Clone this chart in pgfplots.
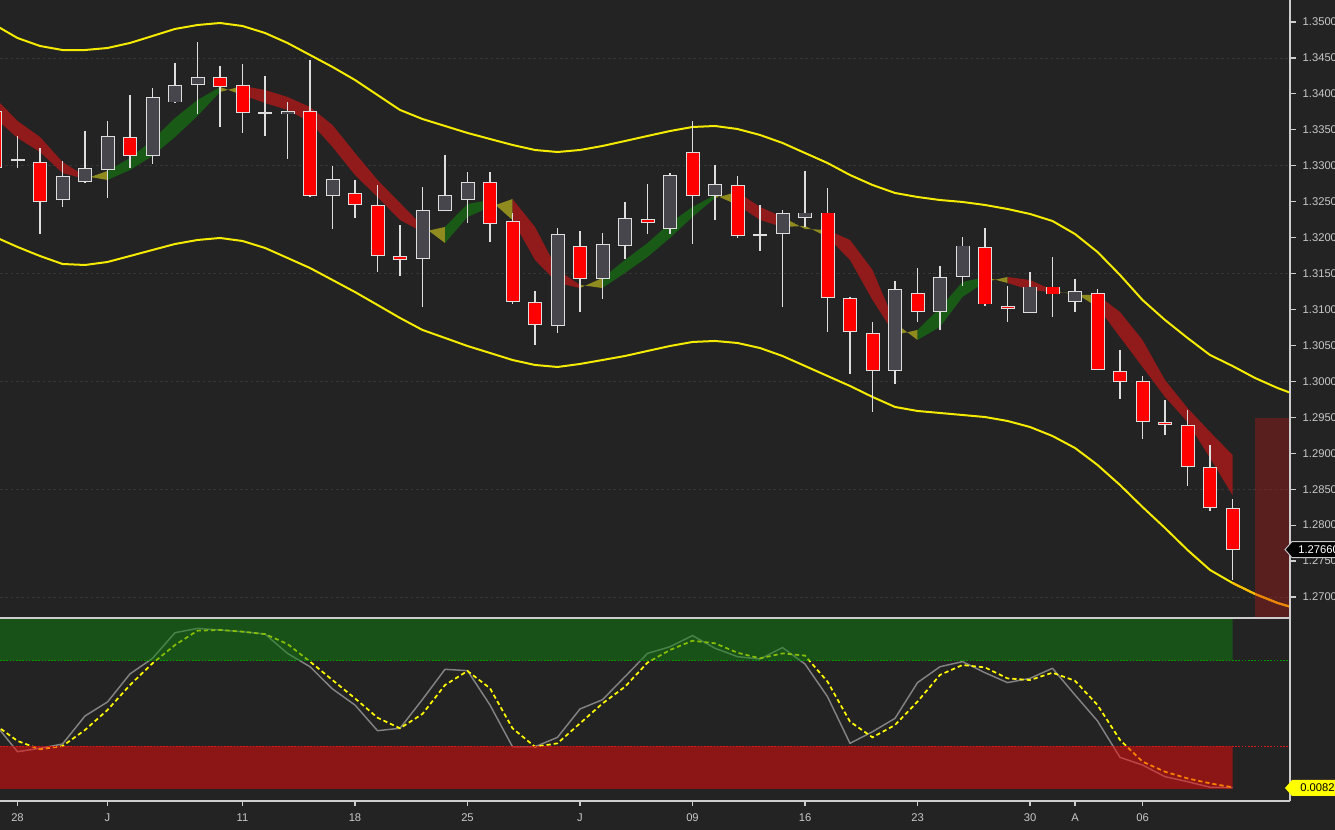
\documentclass[border=0pt]{standalone}
\usepackage{pgfplots}
\pgfplotsset{compat=1.18}
\usepackage{pgfplotstable}
\usepgfplotslibrary{fillbetween}
\usepackage{fontspec}
\setmainfont{Liberation Sans}
\definecolor{bg}{RGB}{35,35,35}
\definecolor{tickcol}{RGB}{200,200,200}
\definecolor{axcol}{RGB}{205,205,205}
\definecolor{gridcol}{RGB}{54,54,54}
\definecolor{ribred}{RGB}{145,26,26}
\definecolor{ribgreen}{RGB}{24,90,22}
\definecolor{ribolive}{RGB}{143,139,30}
\definecolor{bandcol}{RGB}{245,235,0}
\definecolor{bandorange}{RGB}{255,185,0}
\definecolor{upfill}{RGB}{70,70,76}
\definecolor{downfill}{RGB}{255,0,0}
\definecolor{outl}{RGB}{222,222,222}
\definecolor{wick}{RGB}{222,222,222}
\definecolor{kcol}{RGB}{130,130,130}
\definecolor{dcol}{RGB}{255,250,0}
\definecolor{zgreen}{RGB}{14,130,14}
\definecolor{zred}{RGB}{246,8,8}
\definecolor{projred}{RGB}{200,25,25}

% down (red) candles
\pgfplotstableread{
i o h l c
-1 1.3376 1.3392 1.3290 1.3297
1 1.3305 1.3325 1.3205 1.3250
5 1.3340 1.3398 1.3297 1.3314
9 1.3423 1.3439 1.3354 1.3409
10 1.3412 1.3442 1.3345 1.3374
13 1.3376 1.3447 1.3256 1.3258
15 1.3262 1.3280 1.3227 1.3246
16 1.3245 1.3273 1.3152 1.3174
17 1.3174 1.3218 1.3147 1.3169
21 1.3277 1.3291 1.3194 1.3219
22 1.3223 1.3234 1.3107 1.3111
23 1.3111 1.3126 1.3050 1.3078
25 1.3189 1.3209 1.3096 1.3143
28 1.3226 1.3275 1.3205 1.3221
30 1.3319 1.3362 1.3191 1.3258
32 1.3273 1.3286 1.3200 1.3203
36 1.3235 1.3269 1.3069 1.3116
37 1.3116 1.3118 1.3011 1.3069
38 1.3067 1.3082 1.2958 1.3015
40 1.3123 1.3158 1.3083 1.3096
43 1.3187 1.3213 1.3105 1.3107
44 1.3105 1.3132 1.3083 1.3101
46 1.3132 1.3173 1.3090 1.3121
48 1.3123 1.3128 1.3016 1.3016
49 1.3014 1.3044 1.2976 1.2999
50 1.3001 1.3007 1.2920 1.2944
51 1.2944 1.2974 1.2925 1.2940
52 1.2939 1.2960 1.2854 1.2881
53 1.2881 1.2912 1.2820 1.2824
54 1.2824 1.2836 1.2724 1.2766
}\down

% up (grey) candles
\pgfplotstableread{
i o h l c
0 1.3308 1.3341 1.3297 1.3309
2 1.3253 1.3307 1.3242 1.3286
3 1.3277 1.3348 1.3276 1.3297
4 1.3294 1.3363 1.3255 1.3342
6 1.3314 1.3408 1.3303 1.3395
7 1.3388 1.3443 1.3388 1.3412
8 1.3412 1.3472 1.3372 1.3423
11 1.3374 1.3425 1.3342 1.3374
12 1.3372 1.3389 1.3309 1.3376
14 1.3258 1.3299 1.3212 1.3281
18 1.3170 1.3271 1.3103 1.3238
19 1.3237 1.3315 1.3237 1.3259
20 1.3252 1.3291 1.3221 1.3277
24 1.3077 1.3213 1.3067 1.3205
26 1.3142 1.3207 1.3115 1.3191
27 1.3189 1.3250 1.3171 1.3227
29 1.3212 1.3290 1.3205 1.3287
31 1.3258 1.3301 1.3224 1.3274
33 1.3204 1.3245 1.3181 1.3204
34 1.3205 1.3238 1.3103 1.3234
35 1.3228 1.3293 1.3215 1.3235
39 1.3014 1.3140 1.2996 1.3128
41 1.3096 1.3160 1.3072 1.3145
42 1.3145 1.3201 1.3133 1.3189
45 1.3095 1.3152 1.3095 1.3132
47 1.3110 1.3143 1.3096 1.3126
}\up

% ribbon: slow (S) and fast (F) averages
\pgfplotstableread{
i S F
-1 1.33943 1.33664
0 1.33623 1.33386
1 1.33400 1.33191
2 1.33052 1.32899
3 1.32857 1.32816
4 1.32802 1.32927
5 1.32941 1.33108
6 1.33136 1.33358
7 1.33400 1.33664
8 1.33692 1.33915
9 1.34026 1.34096
10 1.34110 1.33984
11 1.34054 1.33873
12 1.33957 1.33776
13 1.33817 1.33609
14 1.33567 1.33261
15 1.33177 1.32871
16 1.32802 1.32565
17 1.32482 1.32245
18 1.32162 1.32078
19 1.31925 1.32148
20 1.32287 1.32468
21 1.32426 1.32523
22 1.32537 1.32245
23 1.32148 1.31689
24 1.31550 1.31369
25 1.31341 1.31299
26 1.31299 1.31438
27 1.31508 1.31689
28 1.31730 1.31925
29 1.31995 1.32204
30 1.32287 1.32426
31 1.32551 1.32593
32 1.32635 1.32454
33 1.32426 1.32245
34 1.32287 1.32148
35 1.32120 1.32162
36 1.32106 1.32009
37 1.31967 1.31689
38 1.31550 1.31132
39 1.30812 1.30645
40 1.30576 1.30715
41 1.30757 1.31021
42 1.31174 1.31383
43 1.31383 1.31452
44 1.31452 1.31369
45 1.31410 1.31271
46 1.31271 1.31243
47 1.31202 1.31230
48 1.31202 1.31035
49 1.30965 1.30617
50 1.30576 1.30200
51 1.30019 1.29783
52 1.29630 1.29435
53 1.29296 1.28934
54 1.28976 1.28419
}\ribbon

% envelope bands
\pgfplotstableread{
i U L
-1 1.34958 1.32009
0 1.34777 1.31870
1 1.34666 1.31744
2 1.34610 1.31633
3 1.34610 1.31619
4 1.34638 1.31661
5 1.34708 1.31744
6 1.34805 1.31828
7 1.34903 1.31911
8 1.34958 1.31967
9 1.34986 1.31995
10 1.34944 1.31953
11 1.34847 1.31856
12 1.34708 1.31717
13 1.34541 1.31577
14 1.34374 1.31410
15 1.34193 1.31243
16 1.33984 1.31063
17 1.33776 1.30882
18 1.33650 1.30715
19 1.33553 1.30604
20 1.33456 1.30492
21 1.33372 1.30395
22 1.33289 1.30297
23 1.33219 1.30228
24 1.33191 1.30200
25 1.33219 1.30242
26 1.33275 1.30297
27 1.33344 1.30353
28 1.33414 1.30423
29 1.33483 1.30492
30 1.33539 1.30548
31 1.33553 1.30562
32 1.33511 1.30534
33 1.33428 1.30464
34 1.33317 1.30353
35 1.33177 1.30214
36 1.33038 1.30075
37 1.32871 1.29936
38 1.32732 1.29783
39 1.32621 1.29644
40 1.32565 1.29588
41 1.32523 1.29560
42 1.32496 1.29532
43 1.32454 1.29504
44 1.32398 1.29449
45 1.32329 1.29365
46 1.32231 1.29240
47 1.32050 1.29073
48 1.31800 1.28837
49 1.31480 1.28558
50 1.31132 1.28252
51 1.30854 1.27960
52 1.30604 1.27654
53 1.30367 1.27376
54 1.30214 1.27195
55 1.30047 1.27042
56 1.29908 1.26917
56.6 1.29838 1.26861
}\bands

% stochastic oscillator
\pgfplotstableread{
i K D
-1 0.380 0.376
0 0.218 0.281
1 0.238 0.232
2 0.263 0.251
3 0.427 0.345
4 0.509 0.462
5 0.673 0.608
6 0.764 0.735
7 0.914 0.842
8 0.939 0.926
9 0.930 0.930
10 0.920 0.920
11 0.906 0.906
12 0.793 0.848
13 0.715 0.745
14 0.585 0.637
15 0.491 0.530
16 0.341 0.417
17 0.355 0.355
18 0.524 0.439
19 0.700 0.608
20 0.692 0.690
21 0.491 0.589
22 0.247 0.355
23 0.247 0.247
24 0.302 0.267
25 0.468 0.384
26 0.522 0.500
27 0.657 0.598
28 0.793 0.739
29 0.832 0.813
30 0.897 0.867
31 0.823 0.852
32 0.774 0.797
33 0.760 0.764
34 0.827 0.793
35 0.731 0.780
36 0.540 0.628
37 0.267 0.394
38 0.335 0.302
39 0.413 0.374
40 0.622 0.511
41 0.715 0.667
42 0.745 0.725
43 0.680 0.711
44 0.622 0.647
45 0.647 0.637
46 0.706 0.680
47 0.550 0.633
48 0.398 0.491
49 0.185 0.287
50 0.140 0.160
51 0.072 0.101
52 0.043 0.062
53 0.010 0.033
54 0.008 0.010
}\osc

\begin{document}
\pagecolor{bg}%
\begin{tikzpicture}[x=0.75pt,y=0.75pt,font=\fontsize{8.4}{10}\selectfont]

% ---------------- price panel ----------------
\begin{axis}[
  at={(0pt,159pt)}, anchor=south west,
  width=967.5pt, height=463.5pt, scale only axis,
  xmin=-0.7778, xmax=56.556,
  ymin=1.267078, ymax=1.353061,
  axis line style={draw=none},
  xtick=\empty,
  ytick pos=right,
  ytick={1.27,1.275,1.28,1.285,1.29,1.295,1.3,1.305,1.31,1.315,1.32,1.325,1.33,1.335,1.34,1.345,1.35},
  scaled y ticks=false,
  yticklabel style={text=tickcol, anchor=west, xshift=1.5pt,
    /pgf/number format/fixed, /pgf/number format/fixed zerofill,
    /pgf/number format/precision=5, /pgf/number format/assume math mode=true},
  tick align=outside, major tick length=4.5pt,
  tick style={draw=axcol, line width=0.9pt},
  extra y ticks={1.27,1.285,1.3,1.315,1.33,1.345},
  extra y tick labels={},
  extra y tick style={grid=major, major tick length=0pt,
     major grid style={draw=gridcol, line width=0.6pt, dash pattern=on 2pt off 2pt}},
]
% ribbon lines (invisible) and coloured fills
\addplot[draw=none, name path=F, forget plot] table[x=i,y=F]{\ribbon};
\addplot[draw=none, name path=S, forget plot] table[x=i,y=S]{\ribbon};
\addplot[fill=ribred] fill between[of=F and S, soft clip={domain=-1:3}];
\addplot[fill=ribolive] fill between[of=F and S, soft clip={domain=3:4}];
\addplot[fill=ribgreen] fill between[of=F and S, soft clip={domain=4:9}];
\addplot[fill=ribolive] fill between[of=F and S, soft clip={domain=9:10}];
\addplot[fill=ribred] fill between[of=F and S, soft clip={domain=10:18}];
\addplot[fill=ribolive] fill between[of=F and S, soft clip={domain=18:19}];
\addplot[fill=ribgreen] fill between[of=F and S, soft clip={domain=19:21}];
\addplot[fill=ribolive] fill between[of=F and S, soft clip={domain=21:22}];
\addplot[fill=ribred] fill between[of=F and S, soft clip={domain=22:25}];
\addplot[fill=ribolive] fill between[of=F and S, soft clip={domain=25:26}];
\addplot[fill=ribgreen] fill between[of=F and S, soft clip={domain=26:31}];
\addplot[fill=ribolive] fill between[of=F and S, soft clip={domain=31:32}];
\addplot[fill=ribred] fill between[of=F and S, soft clip={domain=32:34}];
\addplot[fill=ribolive] fill between[of=F and S, soft clip={domain=34:36}];
\addplot[fill=ribred] fill between[of=F and S, soft clip={domain=36:39}];
\addplot[fill=ribolive] fill between[of=F and S, soft clip={domain=39:40}];
\addplot[fill=ribgreen] fill between[of=F and S, soft clip={domain=40:43}];
\addplot[fill=ribolive] fill between[of=F and S, soft clip={domain=43:44}];
\addplot[fill=ribred] fill between[of=F and S, soft clip={domain=44:46}];
\addplot[fill=ribolive] fill between[of=F and S, soft clip={domain=46:48}];
\addplot[fill=ribred] fill between[of=F and S, soft clip={domain=48:54}];

% envelope bands
\addplot[bandcol, line width=1.5pt, line join=round] table[x=i,y=U]{\bands};
\addplot[bandcol, line width=1.5pt, line join=round] table[x=i,y=L]{\bands};
\addplot[bandorange, line width=1.5pt, line join=round, restrict x to domain=54:57] table[x=i,y=L]{\bands};

% wicks
\addplot[draw=none, mark=none, error bars/.cd, y dir=both, y explicit, error mark=none,
  error bar style={draw=wick, line width=0.9pt}]
  table[x=i, y expr={(\thisrow{h}+\thisrow{l})/2}, y error expr={(\thisrow{h}-\thisrow{l})/2}]{\down};
\addplot[draw=none, mark=none, error bars/.cd, y dir=both, y explicit, error mark=none,
  error bar style={draw=wick, line width=0.9pt}]
  table[x=i, y expr={(\thisrow{h}+\thisrow{l})/2}, y error expr={(\thisrow{h}-\thisrow{l})/2}]{\up};
% body outlines
\addplot[draw=none, mark=none, error bars/.cd, y dir=both, y explicit, error mark=none,
  error bar style={draw=outl, line width=10.5pt}]
  table[x=i, y expr={(\thisrow{o}+\thisrow{c})/2}, y error expr={max(abs(\thisrow{o}-\thisrow{c})/2,0.00008)}]{\down};
\addplot[draw=none, mark=none, error bars/.cd, y dir=both, y explicit, error mark=none,
  error bar style={draw=outl, line width=10.5pt}]
  table[x=i, y expr={(\thisrow{o}+\thisrow{c})/2}, y error expr={max(abs(\thisrow{o}-\thisrow{c})/2,0.00008)}]{\up};
% body fills
\addplot[draw=none, mark=none, error bars/.cd, y dir=both, y explicit, error mark=none,
  error bar style={draw=downfill, line width=9pt}]
  table[x=i, y expr={(\thisrow{o}+\thisrow{c})/2}, y error expr={max(abs(\thisrow{o}-\thisrow{c})/2-0.00013,0)}]{\down};
\addplot[draw=none, mark=none, error bars/.cd, y dir=both, y explicit, error mark=none,
  error bar style={draw=upfill, line width=9pt}]
  table[x=i, y expr={(\thisrow{o}+\thisrow{c})/2}, y error expr={max(abs(\thisrow{o}-\thisrow{c})/2-0.00013,0)}]{\up};

% projection zone
\addplot[fill=projred, fill opacity=0.33, draw=none] coordinates {(55,1.2949) (56.556,1.2949) (56.556,1.267078) (55,1.267078) (55,1.2949)};
\end{axis}

% ---------------- oscillator panel ----------------
\begin{axis}[
  at={(0pt,21.75pt)}, anchor=south west,
  width=967.5pt, height=137.25pt, scale only axis,
  xmin=-0.7778, xmax=56.556,
  ymin=-0.0702, ymax=1,
  axis line style={draw=none},
  ytick=\empty,
  xtick pos=bottom,
  xtick={0,4,10,15,20,25,30,35,40,45,47,50},
  xticklabels={28,J,11,18,25,J,09,16,23,30,A,06},
  xticklabel style={text=tickcol, yshift=-2pt},
  tick align=outside, major tick length=3.75pt,
  tick style={draw=axcol, line width=0.9pt},
]
\addplot[kcol, line width=1.1pt, line join=round] table[x=i,y=K]{\osc};
\addplot[dcol, line width=1.3pt, dash pattern=on 3.2pt off 2.2pt] table[x=i,y=D]{\osc};
\addplot[fill=zgreen, fill opacity=0.5, draw=none] coordinates {(-0.7778,0.75) (54,0.75) (54,1) (-0.7778,1) (-0.7778,0.75)};
\addplot[fill=zred, fill opacity=0.5, draw=none] coordinates {(-0.7778,0) (54,0) (54,0.25) (-0.7778,0.25) (-0.7778,0)};
\addplot[draw={rgb,255:red,0;green,150;blue,0}, line width=1.1pt, dash pattern=on 1.2pt off 1.2pt] coordinates {(-0.7778,0.75) (56.556,0.75)};
\addplot[draw={rgb,255:red,215;green,25;blue,25}, line width=1.1pt, dash pattern=on 1.2pt off 1.2pt] coordinates {(-0.7778,0.25) (56.556,0.25)};
\end{axis}

% axis lines
\draw[axcol, line width=1.1pt] (0,212) -- (1290,212);
\draw[axcol, line width=1.1pt] (0,29) -- (1290,29);
\draw[axcol, line width=1.1pt] (1290,29) -- (1290,830);

% last-value labels
\filldraw[fill=black, draw=tickcol, line width=0.7pt] (1285,280.4) -- (1292,288.4) -- (1345,288.4) -- (1345,272.4) -- (1292,272.4) -- cycle;
\node[anchor=west, text=white, inner sep=0pt] at (1298,280.4) {1.27660};
\filldraw[fill={rgb,255:red,255;green,255;blue,0}, draw=none] (1285,42) -- (1292,50) -- (1345,50) -- (1345,34) -- (1292,34) -- cycle;
\node[anchor=west, text=black, inner sep=0pt] at (1300,42) {0.00820};

\pgfresetboundingbox
\useasboundingbox (0,0) rectangle (1335,830);
\end{tikzpicture}
\end{document}
